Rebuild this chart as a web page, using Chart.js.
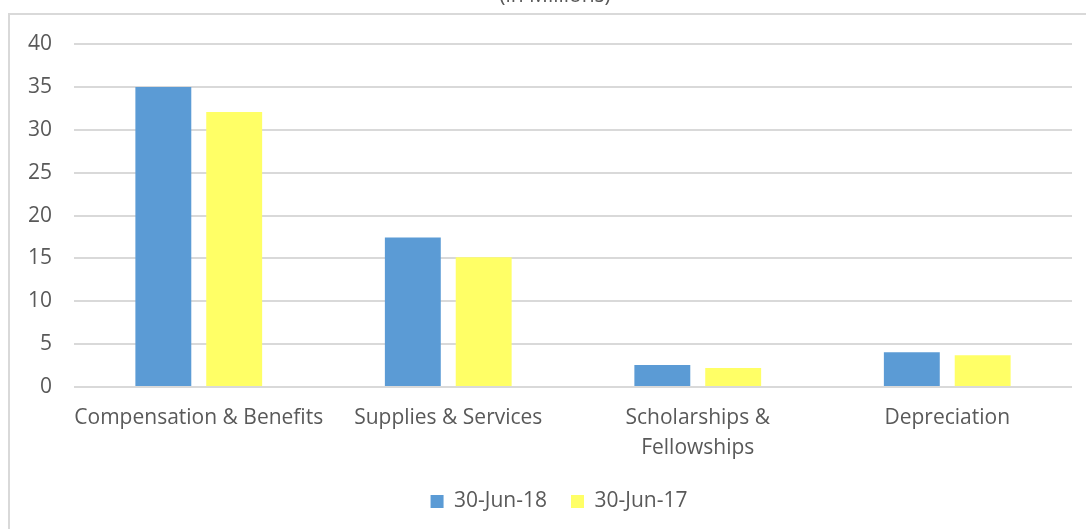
<!DOCTYPE html>
<html>
<head>
<meta charset="utf-8">
<script src="https://cdn.jsdelivr.net/npm/chart.js@4"></script>
<style>
  html, body { margin: 0; padding: 0; background: #ffffff; overflow: hidden; }
  #wrap { position: absolute; left: 0; top: -17px; width: 1086px; height: 546px; }
  #frame { position: absolute; left: 8px; top: 13px; width: 1100px; height: 600px;
           border-left: 2px solid #d9d9d9; border-top: 2px solid #d9d9d9; pointer-events: none; }
</style>
</head>
<body>
<div id="wrap"><canvas id="expenses"></canvas></div>
<div id="frame"></div>
<script>

var categories = [
	"Compensation & Benefits",
	"Supplies & Services",
	["Scholarships &", "Fellowships"],
	"Depreciation"
];
var seriesNames = ["30-Jun-18", "30-Jun-17"];
var values2018 = [35.0, 17.45, 2.55, 4.05];
var values2017 = [32.1, 15.15, 2.2, 3.7];
var yTicks = [0, 5, 10, 15, 20, 25, 30, 35, 40];

// the original chart runs past the right edge, so title and legend sit right of centre
var shift_boxes = {
	id: 'shift_boxes',
	afterLayout: function(chart){
		if (chart.legend) { chart.legend.left += 20; chart.legend.right += 20; }
		if (chart.titleBlock) { chart.titleBlock.left += 16; chart.titleBlock.right += 16; }
	}
};

function init_chart_expenses(){

	if( typeof (Chart) === 'undefined'){ return; }

	var textColor = "#595959";
	var fontFamily = "'Open Sans', sans-serif";

	var chart_bar_settings = {
		type: 'bar',
		data: {
			labels: categories,
			datasets: [{
				label: seriesNames[0],
				data: values2018,
				backgroundColor: "#5B9BD5",
				categoryPercentage: 0.568,
				barPercentage: 0.789
			}, {
				label: seriesNames[1],
				data: values2017,
				backgroundColor: "#FFFF66",
				categoryPercentage: 0.568,
				barPercentage: 0.789
			}]
		},
		options: {
			responsive: true,
			maintainAspectRatio: false,
			animation: false,
			layout: { padding: { left: 6, right: 14, top: 0, bottom: 7 } },
			plugins: {
				title: {
					display: true,
					text: "(in Millions)",
					color: textColor,
					font: { family: fontFamily, size: 21, weight: 'normal' },
					padding: { top: 0, bottom: 36 }
				},
				legend: {
					position: 'bottom',
					labels: {
						color: textColor,
						font: { family: fontFamily, size: 21 },
						boxWidth: 13,
						boxHeight: 13,
						padding: 24
					}
				},
				tooltip: { enabled: false }
			},
			scales: {
				x: {
					grid: { display: false, drawTicks: false },
					border: { display: false },
					afterFit: function(axis){ axis.height -= 12; },
					ticks: {
						color: textColor,
						font: { family: fontFamily, size: 21, lineHeight: 1.43 },
						maxRotation: 0,
						autoSkip: false,
						padding: 16
					}
				},
				y: {
					min: yTicks[0],
					max: yTicks[yTicks.length - 1],
					afterBuildTicks: function(axis){
						axis.ticks = yTicks.map(function(v){ return { value: v }; });
					},
					grid: { color: "#d9d9d9", lineWidth: 2, drawTicks: false },
					border: { display: false },
					ticks: {
						color: textColor,
						font: { family: fontFamily, size: 21 },
						padding: 22
					}
				}
			}
		},
		plugins: [shift_boxes]
	};

	var chart_element = document.getElementById('expenses');
	var chart_bar = new Chart(chart_element, chart_bar_settings);

}

init_chart_expenses();
</script>
</body>
</html>
